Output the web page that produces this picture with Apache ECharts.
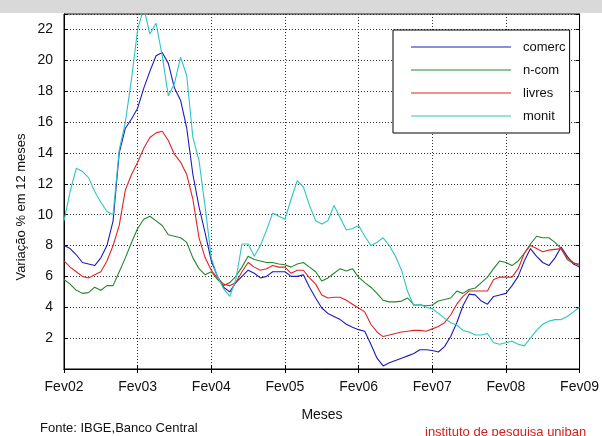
<!DOCTYPE html>
<html lang="pt">
<head>
<meta charset="UTF-8">
<title>Variação % em 12 meses</title>
<script src="https://cdn.jsdelivr.net/npm/echarts@6/dist/echarts.min.js"></script>
<style>
  html, body { margin: 0; padding: 0; background: #fff; }
  #chart { width: 602px; height: 436px; }
</style>
</head>
<body>
<div id="chart"></div>
<script>
// meses de Fev/2002 a Fev/2009
const mesesNomes = ['Jan', 'Fev', 'Mar', 'Abr', 'Mai', 'Jun', 'Jul', 'Ago', 'Set', 'Out', 'Nov', 'Dez'];
const categories = [];
for (let k = 0; k < 85; k++) {
  const m = (1 + k) % 12;
  const ano = 2002 + Math.floor((1 + k) / 12);
  categories.push(mesesNomes[m] + String(ano).slice(2));
}

const comerc = [8.0, 7.8, 7.4, 6.9, 6.8, 6.7, 7.2, 8.0, 9.6, 14.0,
  15.6, 16.2, 16.9, 18.2, 19.3, 20.3, 20.5, 19.8, 18.2, 17.4,
  15.6, 12.6, 10.5, 8.8, 7.0, 6.0, 5.3, 5.0, 5.6, 6.0,
  6.4, 6.2, 5.9, 6.0, 6.3, 6.3, 6.3, 6.0, 6.0, 6.1,
  5.3, 4.6, 3.95, 3.6, 3.4, 3.2, 2.9, 2.7, 2.55, 2.45,
  1.6, 0.7, 0.2, 0.4, 0.55, 0.7, 0.85, 1.0, 1.25, 1.25,
  1.2, 1.1, 1.45, 2.1, 3.0, 4.1, 4.85, 4.8, 4.4, 4.2,
  4.7, 4.8, 4.9, 5.4, 6.0, 7.0, 7.8, 7.3, 6.9, 6.7,
  7.2, 7.9, 7.3, 6.8, 6.6];

const ncom = [5.8, 5.5, 5.1, 4.9, 4.95, 5.3, 5.1, 5.4, 5.4, 6.3,
  7.2, 8.2, 9.1, 9.7, 9.9, 9.6, 9.3, 8.7, 8.6, 8.5,
  8.2, 7.2, 6.5, 6.1, 6.3, 5.8, 5.4, 5.6, 6.0, 6.6,
  7.3, 7.1, 7.0, 6.9, 6.9, 6.8, 6.75, 6.6, 6.8, 6.9,
  6.6, 6.3, 5.7, 5.9, 6.2, 6.5, 6.35, 6.5, 5.95, 5.6,
  5.3, 4.9, 4.45, 4.35, 4.35, 4.4, 4.6, 4.15, 4.15, 4.1,
  4.15, 4.4, 4.5, 4.6, 5.05, 4.9, 5.15, 5.25, 5.6, 5.95,
  6.5, 7.0, 6.9, 6.7, 7.0, 7.5, 8.1, 8.6, 8.5, 8.5,
  8.2, 7.8, 7.1, 6.85, 6.8];

const livres = [7.0, 6.6, 6.3, 6.0, 5.9, 6.1, 6.3, 7.0, 8.0, 9.3,
  11.6, 12.6, 13.4, 14.3, 15.0, 15.3, 15.4, 14.8, 13.9, 13.4,
  12.6, 11.0, 8.5, 7.2, 6.4, 5.9, 5.5, 5.4, 5.6, 6.3,
  6.9, 6.6, 6.4, 6.5, 6.7, 6.6, 6.6, 6.2, 6.4, 6.4,
  5.9, 5.5, 4.8, 4.6, 4.65, 4.65, 4.45, 4.2, 3.95, 3.7,
  2.9, 2.4, 2.1, 2.2, 2.3, 2.4, 2.45, 2.5, 2.5, 2.45,
  2.6, 2.75, 3.0, 3.5, 4.2, 4.7, 5.05, 5.05, 5.05, 5.05,
  5.8, 5.95, 5.95, 5.95, 6.5, 7.5, 8.0, 7.8, 7.6, 7.7,
  7.75, 7.8, 7.2, 6.9, 6.7];

const monit = [9.6, 11.5, 13.0, 12.8, 12.4, 11.5, 10.8, 10.2, 10.0, 14.2,
  16.0, 18.8, 22.0, 23.4, 21.7, 22.4, 20.3, 17.7, 18.5, 20.2,
  19.0, 15.0, 13.5, 10.5, 7.2, 6.0, 5.2, 4.7, 5.8, 8.1,
  8.1, 7.3, 8.0, 9.0, 10.1, 9.9, 9.7, 11.0, 12.2, 11.8,
  10.6, 9.6, 9.4, 9.6, 10.6, 9.8, 9.0, 9.1, 9.3, 8.6,
  8.0, 8.2, 8.5, 8.0, 7.3, 6.4, 5.0, 4.1, 4.2, 4.0,
  3.9, 3.6, 3.3, 3.0, 2.85, 2.5, 2.4, 2.2, 2.2, 2.3,
  1.7, 1.6, 1.7, 1.8, 1.6, 1.5, 2.0, 2.5, 2.9, 3.1,
  3.2, 3.2, 3.4, 3.7, 4.0];

const seriesNames = ['comerc', 'n-com', 'livres', 'monit'];
const seriesColors = ['#1c1cb8', '#23862a', '#e02424', '#2ec4c4'];

const font = 'Liberation Sans, Arial, sans-serif';
const chart = echarts.init(document.getElementById('chart'));

const gridLine = { lineStyle: { color: '#333', width: 1, type: [1, 2] } };

const option = {
  animation: false,
  color: seriesColors,
  textStyle: { fontFamily: font },
  grid: { left: 64, right: 19, top: 14, bottom: 67, show: true, borderColor: '#000', borderWidth: 1 },
  legend: {
    orient: 'vertical',
    left: 393,
    top: 30,
    data: seriesNames,
    icon: 'rect',
    backgroundColor: '#fff',
    borderColor: '#000',
    borderWidth: 1,
    borderRadius: 0,
    padding: [10, 4, 10, 18],
    itemWidth: 100,
    itemHeight: 1,
    itemGap: 9,
    textStyle: { fontSize: 13, lineHeight: 14, color: '#111', padding: [0, 0, 0, 7] },
    z: 10
  },
  xAxis: [{
    type: 'category',
    data: categories,
    boundaryGap: false,
    axisLine: { lineStyle: { color: '#000' } },
    axisTick: { inside: true, interval: 11, length: 4, lineStyle: { color: '#000' } },
    axisLabel: { interval: 11, fontSize: 14, color: '#111', margin: 11 },
    splitLine: Object.assign({ show: true, interval: 11 }, gridLine)
  }, {
    type: 'category',
    data: categories,
    boundaryGap: false,
    position: 'top',
    axisLine: { lineStyle: { color: '#000' } },
    axisTick: { inside: true, interval: 11, length: 4, lineStyle: { color: '#000' } },
    axisLabel: { show: false },
    splitLine: { show: false }
  }],
  yAxis: [{
    type: 'value',
    min: 0,
    max: 23,
    interval: 2,
    axisLine: { show: true, lineStyle: { color: '#000' } },
    axisTick: { show: true, inside: true, length: 4, lineStyle: { color: '#000' } },
    axisLabel: {
      fontSize: 14, color: '#111', margin: 11,
      formatter: v => (v === 0 || v === 23) ? '' : String(v)
    },
    splitLine: Object.assign({ show: true }, gridLine)
  }, {
    type: 'value',
    min: 0,
    max: 23,
    interval: 2,
    position: 'right',
    axisLine: { show: true, lineStyle: { color: '#000' } },
    axisTick: { show: true, inside: true, length: 4, lineStyle: { color: '#000' } },
    axisLabel: { show: false },
    splitLine: { show: false }
  }],
  graphic: [
    { type: 'rect', left: 0, top: 0, shape: { width: 602, height: 13 }, style: { fill: '#d9d9d9' } },
    {
      type: 'text', x: 21, y: 207, rotation: Math.PI / 2,
      style: { text: 'Variação % em 12 meses', font: '13px ' + font, fill: '#111', align: 'center', verticalAlign: 'middle' }
    },
    {
      type: 'text', x: 322, y: 415,
      style: { text: 'Meses', font: '14px ' + font, fill: '#111', align: 'center', verticalAlign: 'middle' }
    },
    {
      type: 'text', x: 40, y: 428,
      style: { text: 'Fonte: IBGE,Banco Central', font: '13px ' + font, fill: '#111', align: 'left', verticalAlign: 'middle' }
    },
    {
      type: 'text', x: 425, y: 432,
      style: { text: 'instituto de pesquisa uniban', font: '13px ' + font, fill: '#d42020', align: 'left', verticalAlign: 'middle' }
    }
  ],
  series: [
    { name: seriesNames[0], type: 'line', data: comerc },
    { name: seriesNames[1], type: 'line', data: ncom },
    { name: seriesNames[2], type: 'line', data: livres },
    { name: seriesNames[3], type: 'line', data: monit }
  ].map(s => Object.assign(s, { symbol: 'none', lineStyle: { width: 1.1 }, clip: true }))
};

chart.setOption(option);
window.addEventListener('resize', () => chart.resize());
</script>
</body>
</html>
